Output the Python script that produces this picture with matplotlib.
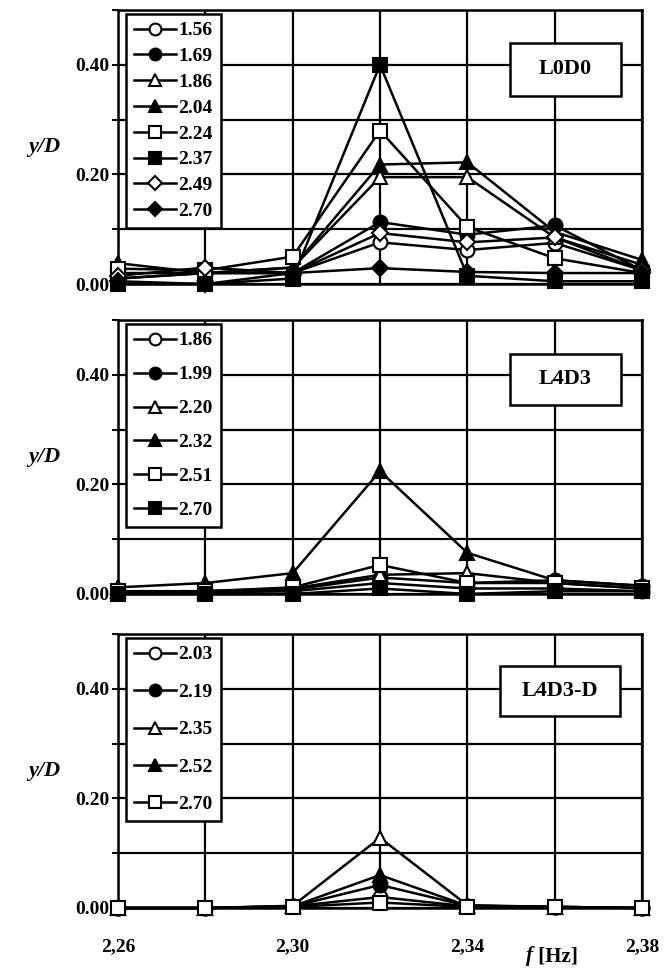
import matplotlib.pyplot as plt
from matplotlib.patches import Rectangle
import numpy as np

plt.rcParams['font.family'] = ['Liberation Serif', 'DejaVu Serif']
plt.rcParams['font.weight'] = 'bold'

freq = [2.26, 2.28, 2.30, 2.32, 2.34, 2.36, 2.38]

# L0D0
labels_a = ["1.56", "1.69", "1.86", "2.04", "2.24", "2.37", "2.49", "2.70"]
vals_a = [
    [0.010, 0.020, 0.020, 0.076, 0.062, 0.075, 0.025],
    [0.010, 0.020, 0.020, 0.113, 0.090, 0.107, 0.025],
    [0.020, 0.020, 0.030, 0.195, 0.195, 0.085, 0.035],
    [0.038, 0.020, 0.030, 0.218, 0.222, 0.095, 0.044],
    [0.028, 0.025, 0.050, 0.280, 0.104, 0.047, 0.020],
    [0.000, 0.000, 0.010, 0.400, 0.015, 0.005, 0.005],
    [0.015, 0.030, 0.020, 0.093, 0.076, 0.085, 0.025],
    [0.005, 0.000, 0.020, 0.029, 0.022, 0.020, 0.020],
]

# L4D3
labels_b = ["1.86", "1.99", "2.20", "2.32", "2.51", "2.70"]
vals_b = [
    [0.003, 0.003, 0.005, 0.020, 0.010, 0.010, 0.005],
    [0.005, 0.005, 0.008, 0.030, 0.020, 0.025, 0.015],
    [0.005, 0.005, 0.010, 0.035, 0.038, 0.020, 0.010],
    [0.012, 0.020, 0.038, 0.224, 0.075, 0.025, 0.015],
    [0.005, 0.005, 0.012, 0.053, 0.020, 0.020, 0.010],
    [0.000, 0.000, 0.000, 0.010, 0.000, 0.005, 0.005],
]

# L4D3-D
labels_c = ["2.03", "2.19", "2.35", "2.52", "2.70"]
vals_c = [
    [0.000, 0.000, 0.003, 0.020, 0.003, 0.002, 0.000],
    [0.000, 0.000, 0.003, 0.042, 0.004, 0.002, 0.000],
    [0.000, 0.000, 0.004, 0.128, 0.005, 0.002, 0.000],
    [0.000, 0.000, 0.003, 0.060, 0.004, 0.002, 0.000],
    [0.000, 0.000, 0.002, 0.010, 0.002, 0.001, 0.000],
]

styles_a = [('o', 'w'), ('o', 'k'), ('^', 'w'), ('^', 'k'),
            ('s', 'w'), ('s', 'k'), ('D', 'w'), ('D', 'k')]
styles_b = [('o', 'w'), ('o', 'k'), ('^', 'w'), ('^', 'k'), ('s', 'w'), ('s', 'k')]
styles_c = [('o', 'w'), ('o', 'k'), ('^', 'w'), ('^', 'k'), ('s', 'w')]

# name, labels, values, marker styles, axes bottom, legend spacing, name box (x0, y0, x1, y1)
panels = [
    ("L0D0", labels_a, vals_a, styles_a, 0.7066, 0.42, (0.748, 0.686, 0.960, 0.880)),
    ("L4D3", labels_b, vals_b, styles_b, 0.3864, 0.84, (0.748, 0.691, 0.960, 0.875)),
    ("L4D3-D", labels_c, vals_c, styles_c, 0.0620, 1.02, (0.729, 0.699, 0.958, 0.882)),
]

fig = plt.figure(figsize=(6.69, 9.68), dpi=100)

for k, (name, labels, vals, styles, bottom, lspace, box) in enumerate(panels):
    ax = fig.add_axes([0.1764, bottom, 0.7833, 0.2831])
    for lab, v, (m, fc) in zip(labels, vals, styles):
        ms = 8 if m == 'D' else 10
        ax.plot(freq, v, color='k', lw=1.8, marker=m, ms=ms, mfc=fc,
                mec='k', mew=1.5, clip_on=False, label=lab, zorder=3)

    ax.set_xlim(2.26, 2.38)
    ax.set_ylim(0, 0.5)
    ax.set_xticks(np.arange(2.26, 2.381, 0.02))
    ax.set_yticks(np.arange(0, 0.51, 0.1))
    ax.set_yticklabels(["0.00", "", "0.20", "", "0.40", ""])
    ax.grid(True, color='k', lw=1.6)
    for s in ax.spines.values():
        s.set_linewidth(1.8)
    ax.tick_params(axis='y', direction='out', length=4, width=1.5, labelsize=14, pad=2)
    ax.tick_params(axis='x', length=0, labelsize=14, pad=22)
    if k == 2:
        ax.set_xticklabels(["2,26", "", "2,30", "", "2,34", "", "2,38"])
        ax.text(2.355, -0.088, "f", style='italic', fontsize=15, ha='right', va='center')
        ax.text(2.355, -0.088, " [Hz]", fontsize=15, ha='left', va='center')
    else:
        ax.set_xticklabels([])

    ax.text(-0.14, 0.5, "y/D", style='italic', fontsize=16, transform=ax.transAxes,
            ha='center', va='center')

    x0, y0, x1, y1 = box
    ax.add_patch(Rectangle((x0, y0), x1 - x0, y1 - y0, transform=ax.transAxes,
                           fc='w', ec='k', lw=1.8, zorder=5))
    ax.text((x0 + x1) / 2, (y0 + y1) / 2, name, fontsize=16, transform=ax.transAxes,
            ha='center', va='center', zorder=6)

    leg = ax.legend(loc='upper left', bbox_to_anchor=(0.015, 0.985), fontsize=14,
                    frameon=True, fancybox=False, edgecolor='k', framealpha=1,
                    handlelength=2.2, handletextpad=0.1, labelspacing=lspace,
                    borderpad=0.4, borderaxespad=0.0, markerscale=0.85)
    leg.get_frame().set_linewidth(1.8)
    leg.set_zorder(6)

plt.savefig("out.png", dpi=100)
